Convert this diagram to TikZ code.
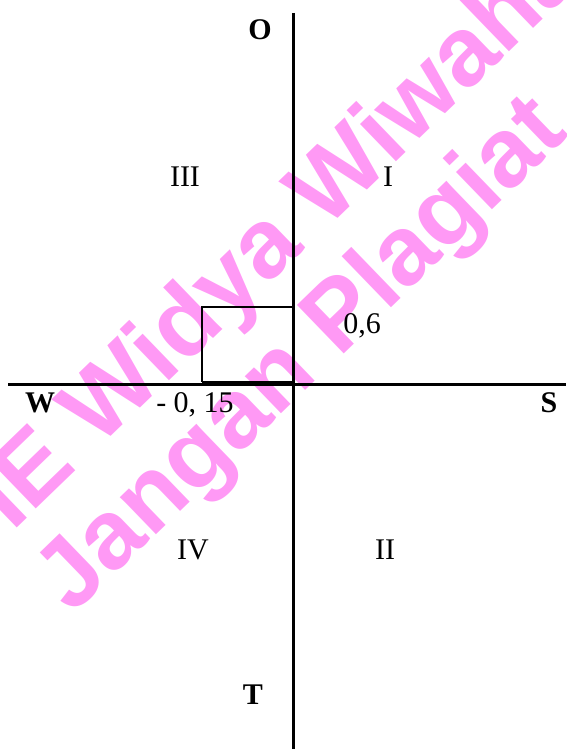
\documentclass[tikz,border=0pt]{standalone}
\usepackage{fontspec}
\setmainfont{Liberation Serif}
\newfontfamily\wmfont{Liberation Sans}
\definecolor{wmcol}{HTML}{FF99F5}
\begin{document}
\begin{tikzpicture}[x=1pt,y=-1pt,
  axisline/.style={line width=3pt},
  boxline/.style={line width=2.5pt},
  lbl/.style={inner sep=0pt, text depth=0pt, font=\fontsize{30}{32}\selectfont},
  blbl/.style={inner sep=0pt, text depth=0pt, font=\fontsize{30}{32}\selectfont\bfseries},
  wmtext/.style={inner sep=0pt, text=wmcol, rotate=44, font=\wmfont\fontsize{98}{100}\selectfont\bfseries}]
\useasboundingbox (0,0) rectangle (566,749);
% watermark
\node[wmtext] (wm1) at (237,280) {STIE Widya Wiwaha};
\node[wmtext] (wm2) at (304,357) {Jangan Plagiat};
% axes
\coordinate (top) at (293,13);
\coordinate (bot) at (293,749);
\coordinate (left) at (8,384);
\coordinate (right) at (566,384);
\draw[axisline] (top) -- (bot);
\draw[axisline] (left) -- (right);
% small box
\coordinate (b1) at (202,307);
\coordinate (b2) at (293,307);
\coordinate (b3) at (293,382);
\coordinate (b4) at (202,382);
\draw[boxline] (b2) -- (b1) -- (b4);
\draw[axisline] (b4) -- (b3);
% labels
\node[blbl] (O) at (260,30) {O};
\node[blbl] (W) at (40,403) {W};
\node[blbl] (S) at (549,403) {S};
\node[blbl] (T) at (253,695) {T};
\node[lbl] (q3) at (185,177) {III};
\node[lbl] (q1) at (388,177) {I};
\node[lbl] (q4) at (193,550) {IV};
\node[lbl] (q2) at (385,550) {II};
\node[lbl] (v06) at (362,324) {0,6};
\node[lbl] (v015) at (195,403) {- 0, 15};
\end{tikzpicture}
\end{document}
